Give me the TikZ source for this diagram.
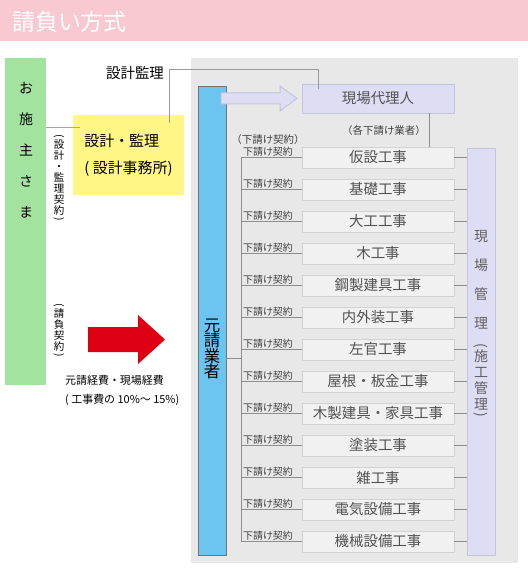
\documentclass[tikz,border=0pt]{standalone}
\usepackage{fontspec}
\setmainfont{Noto Sans CJK JP}
\usetikzlibrary{positioning,calc}
\definecolor{headpink}{HTML}{F8C9D1}
\definecolor{sitegrey}{HTML}{E8E8E8}
\definecolor{clientgreen}{HTML}{A3E3A0}
\definecolor{designyellow}{HTML}{FFF685}
\definecolor{primeblue}{HTML}{6CC5F0}
\definecolor{lavender}{HTML}{DDDDF3}
\definecolor{lavline}{HTML}{C4C4DE}
\definecolor{boxfill}{HTML}{F1F1F1}
\definecolor{boxline}{HTML}{D2D2D2}
\definecolor{linegrey}{HTML}{8E8E8E}
\definecolor{arrowred}{HTML}{DE0012}
% rotated parentheses for vertical text
\newcommand\vop[1]{\raisebox{#1}{\rotatebox{-90}{(}}}
\newcommand\vcl{\rotatebox{-90}{)}}
\tikzset{
  title/.style={text=white, inner sep=0pt, font=\fontsize{23}{24}\selectfont},
  client/.style={fill=clientgreen, minimum width=41bp, minimum height=327bp, inner sep=0pt},
  design/.style={fill=designyellow, minimum width=111bp, minimum height=80bp, inner sep=0pt, align=left, font=\fontsize{15}{27}\selectfont},
  prime/.style={draw=black!55, fill=primeblue, minimum width=28bp, minimum height=469bp, inner sep=0pt},
  agent/.style={draw=lavline, fill=lavender, minimum width=152bp, minimum height=29bp, inner sep=0pt, text=black!68, font=\fontsize{14.5}{16}\selectfont},
  mgr/.style={draw=lavline, fill=lavender, minimum width=28bp, minimum height=407bp, inner sep=0pt},
  work/.style={draw=boxline, fill=boxfill, minimum width=152bp, minimum height=21bp, inner sep=0pt, text=black!68, font=\fontsize{14.5}{16}\selectfont},
  sub/.style={inner sep=0pt, text=black!75, font=\fontsize{10}{11}\selectfont},
  note/.style={inner sep=0pt, font=\fontsize{11}{19}\selectfont},
  vsmall/.style={inner sep=0pt, align=center, font=\fontsize{10.5}{11}\selectfont},
  link/.style={draw=linegrey, line width=1bp},
  hollow/.style={fill=lavender, draw=lavline, line width=1bp},
}

\begin{document}
\begin{tikzpicture}[x=1bp,y=-1bp]
  \useasboundingbox (0,0) rectangle (528,576);
  % Header
  \fill[headpink] (0,0) rectangle (528,41);
  \node[title, anchor=west] (title) at (12,22) {請負い方式};
  % Site area
  \fill[sitegrey] (191,58) rectangle (518,563);
  % Client and designer
  \node[client] (client) at (25.5,221.5) {};
  \node[inner sep=0pt, align=center, font=\fontsize{14}{31}\selectfont] (clienttext) at (26,150) {お\\施\\主\\さ\\ま};
  \node[design] (design) at (128.5,155) {設計・監理\\( 設計事務所)};
  \node[inner sep=0pt, font=\fontsize{14.5}{16}\selectfont] (superv) at (135,73) {設計監理};
  \node[vsmall] (dcontract) at (59,178) {\vop{3bp}\\設\\計\\・\\監\\理\\契\\約\\[-8bp]\vcl};
  \node[vsmall] (ccontract) at (59,330) {\vop{3bp}\\請\\負\\契\\約\\[-8bp]\vcl};
  \coordinate (cl) at (80,128);
  \coordinate (dm) at (169,123);
  \coordinate (top) at (318,70);
  \coordinate (am) at (318,89);
  % Money flow
  \fill[arrowred] (88,327) -- (138,327) -- (138,315) -- (165,339.5) -- (138,364) -- (138,352) -- (88,352) -- cycle;
  \node[note, anchor=west, align=left] (cost) at (65,390.5) {元請経費・現場経費\\( 工事費の 10\%～ 15\%)};
  % Prime contractor
  \node[prime] (prime) at (212,320.5) {};
  \node[inner sep=0pt, align=center, font=\fontsize{16.5}{15.5}\selectfont] (primetext) at (212,349) {元\\請\\業\\者};
  \node[agent] (agent) at (378,98.5) {現場代理人};
  \draw[hollow] (221,93) -- (280,93) -- (280,86) -- (297,98.5) -- (280,111) -- (280,104) -- (221,104) -- cycle;
  \node[sub, font=\fontsize{10.5}{11}\selectfont] (allsub) at (384,131) {（各下請け業者）};
  \node[sub, font=\fontsize{10.5}{11}\selectfont] (subhead) at (268,140) {（下請け契約）};
  % Site management
  \node[mgr] (mgr) at (481,351.5) {};
  \node[inner sep=0pt, align=center, text=black!62, font=\fontsize{14}{29}\selectfont] (mgrtext) at (481,280) {現\\場\\管\\理};
  \node[inner sep=0pt, align=center, text=black!62, font=\fontsize{14}{16}\selectfont] (mgrsub) at (481,380) {\vop{2.5bp}\\施\\工\\管\\理\\[-13bp]\vcl};
  % Trades
  \coordinate (trunk) at (241,0);
  \coordinate (tap) at (241,358);
  \foreach \job [count=\i] in {仮設工事,基礎工事,大工工事,木工事,鋼製建具工事,内外装工事,左官工事,屋根・板金工事,木製建具・家具工事,塗装工事,雑工事,電気設備工事,機械設備工事} {
    \node[work] (w\i) at (378,{125.5+32*\i}) {\job};
    \node[sub] (s\i) at (268,{119.5+32*\i}) {下請け契約};
    \draw[link] (w\i.west-|trunk) -- (w\i.west);
    \draw[link] (w\i.east) -- (w\i.east-|mgr.west);
  }
  % Connectors
  \draw[link] (w1.west-|trunk) -- (w13.west-|trunk);
  \draw[link] (tap-|prime.east) -- (tap);
  \draw[link] ([xshift=51bp]agent.south) -- ([xshift=51bp]agent.south|-w1.north);
  \draw[link, draw=black!35] (cl-|client.east) -- (cl);
  \draw[link, draw=black!40] (dm) |- (top) -- (am);
\end{tikzpicture}
\end{document}
